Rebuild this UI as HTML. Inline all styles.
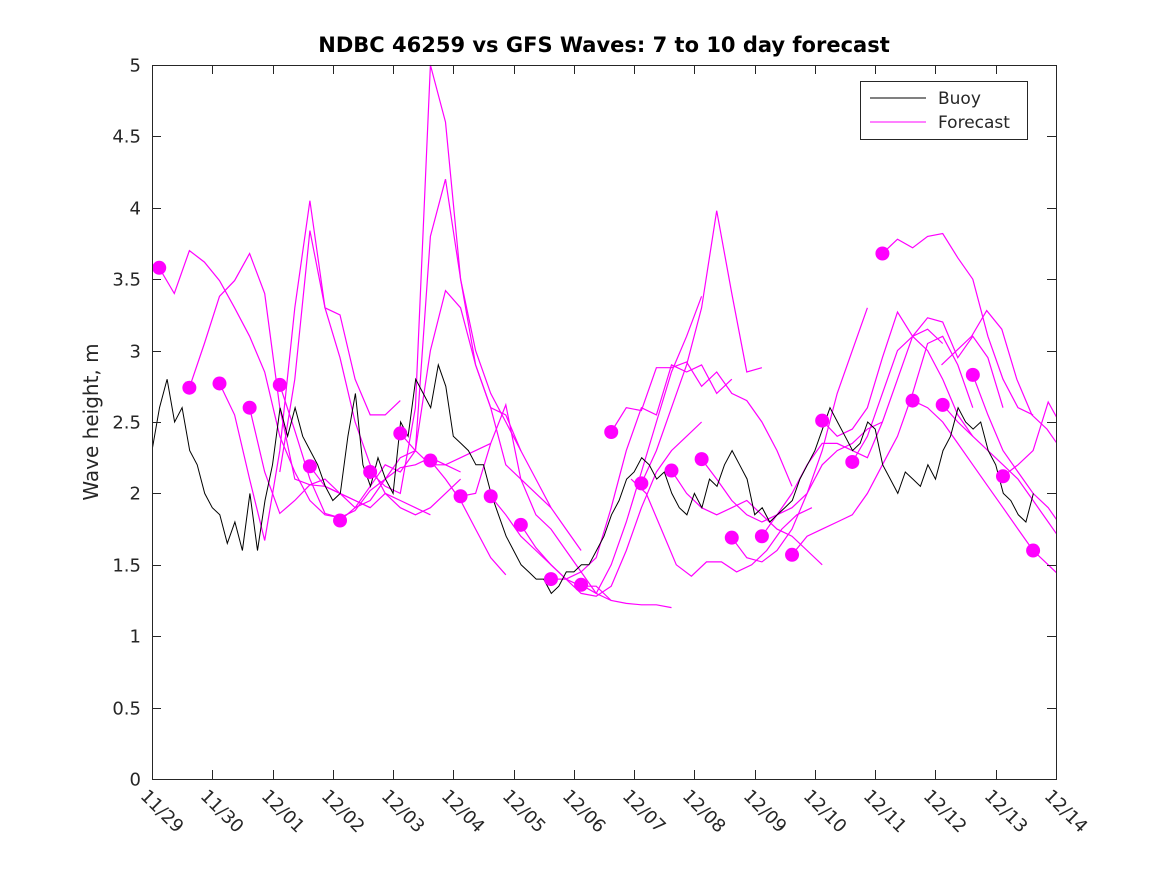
<!DOCTYPE html>
<html><head><meta charset="utf-8"><style>
body{margin:0;background:#fff;}
svg text{font-family:"DejaVu Sans","Liberation Sans",sans-serif;fill:#262626;}
</style></head><body>
<svg id="chart" width="1167" height="875" xmlns="http://www.w3.org/2000/svg">
<defs><clipPath id="pc"><rect x="152" y="60" width="904" height="720"/></clipPath></defs>
<rect width="1167" height="875" fill="#fff"/>
<text x="604" y="52" text-anchor="middle" font-size="21" font-weight="bold" style="fill:#000">NDBC 46259 vs GFS Waves: 7 to 10 day forecast</text>
<text transform="translate(98,422) rotate(-90)" text-anchor="middle" font-size="20">Wave height, m</text>
<g id="plot" clip-path="url(#pc)"></g>
<g id="axes"></g>
<g>
<rect x="860.5" y="81.5" width="167" height="58" fill="#fff" stroke="#262626" stroke-width="1"/>
<line x1="870" y1="98" x2="926" y2="98" stroke="#000" stroke-width="1"/>
<text x="938" y="104" font-size="17">Buoy</text>
<line x1="870" y1="122" x2="926" y2="122" stroke="#ff00ff" stroke-width="1"/>
<text x="938" y="128" font-size="17">Forecast</text>
</g>
</svg>
<script>
const xTickLabels=["11/29","11/30","12/01","12/02","12/03","12/04","12/05","12/06","12/07","12/08","12/09","12/10","12/11","12/12","12/13","12/14"];
const yTickValues=[0,0.5,1,1.5,2,2.5,3,3.5,4,4.5,5];
const yTickLabels=["0","0.5","1","1.5","2","2.5","3","3.5","4","4.5","5"];
// buoy: 3-hourly values from day 0 (11/29)
const buoyStep=0.125;
const buoyValues=[
2.3,2.6,2.8,2.5,2.6,2.3,2.2,2.0,
1.9,1.85,1.65,1.8,1.6,2.0,1.6,1.95,
2.2,2.6,2.4,2.6,2.4,2.3,2.2,2.05,
1.95,2.0,2.4,2.7,2.2,2.05,2.25,2.1,
2.0,2.5,2.4,2.8,2.7,2.6,2.9,2.75,
2.4,2.35,2.3,2.2,2.2,2.0,1.85,1.7,
1.6,1.5,1.45,1.4,1.4,1.3,1.35,1.45,
1.45,1.5,1.5,1.6,1.7,1.85,1.95,2.1,
2.15,2.25,2.2,2.1,2.15,2.0,1.9,1.85,
2.0,1.9,2.1,2.05,2.2,2.3,2.2,2.1,
1.85,1.9,1.8,1.85,1.9,1.95,2.1,2.2,
2.3,2.45,2.6,2.5,2.4,2.3,2.35,2.5,
2.45,2.2,2.1,2.0,2.15,2.1,2.05,2.2,
2.1,2.3,2.4,2.6,2.5,2.45,2.5,2.3,
2.2,2.0,1.95,1.85,1.8,2.0];
// forecast dots (day, value)
const dotDays=[0.12,0.62,1.12,1.62,2.12,2.62,3.12,3.62,4.12,4.62,5.12,5.62,6.12,6.62,7.12,7.62,8.12,8.62,9.12,9.62,10.12,10.62,11.12,11.62,12.12,12.62,13.12,13.62,14.12,14.62];
const dotValues=[3.58,2.74,2.77,2.60,2.76,2.19,1.81,2.15,2.42,2.23,1.98,1.98,1.78,1.40,1.36,2.43,2.07,2.16,2.24,1.69,1.70,1.57,2.51,2.22,3.68,2.65,2.62,2.83,2.12,1.60];
// forecast segments: start day, values every 0.25 day
const segStep=0.25;
const segStarts=[0.12,0.62,1.12,1.62,2.12,2.12,2.62,3.12,3.62,4.12,4.62,5.12,5.62,6.12,6.62,7.12,7.62,8.12,7.95,8.62,9.12,9.62,10.12,10.62,11.12,11.62,12.12,12.62,13.12,13.62,13.1,14.12];
const segValues=[
[3.58,3.40,3.70,3.62,3.49,3.30,3.10,2.85,2.40,2.15,1.95,1.85,1.83],
[2.74,3.05,3.38,3.49,3.68,3.40,2.60,2.10,2.06,2.05,2.00,1.95,1.90],
[2.77,2.55,2.10,1.67,2.30,3.30,4.05,3.30,3.25,2.80,2.55,2.55,2.65],
[2.60,2.15,1.86,1.95,2.06,2.10,2.00,1.95,1.90,2.00,1.95,1.90,1.85],
[2.76,2.44,2.10,1.86,1.83,1.88,2.02,2.10,2.18,2.20,2.25,2.20,2.15],
[2.15,2.80,3.84,3.30,2.95,2.50,2.20,2.00,1.90,1.85,1.90,2.00,2.10],
[2.19,2.05,2.00,1.90,1.95,2.10,2.25,2.30,2.20,2.20,2.25,2.30,2.35],
[1.81,1.90,2.05,2.20,2.15,2.30,3.00,3.42,3.30,2.90,2.60,2.55,2.30],
[2.15,2.05,2.00,2.60,5.00,4.60,3.50,2.90,2.60,2.20,2.10,2.00,1.90],
[2.42,2.30,3.80,4.20,3.50,3.00,2.70,2.50,2.30,2.10,1.90,1.75,1.60],
[2.23,2.10,1.95,1.75,1.55,1.43],
[1.98,2.00,2.35,2.62,2.10,1.85,1.75,1.60,1.45,1.30,1.25],
[1.98,1.85,1.70,1.60,1.50,1.40,1.35,1.35,1.25,1.23,1.22,1.22,1.20],
[1.78,1.62,1.50,1.40,1.30,1.28,1.35,1.60,1.90,2.15,2.30,2.40,2.50],
[1.40,1.40,1.45,1.55,1.90,2.30,2.60,2.55,2.90,2.85,2.90,2.70,2.80],
[1.36,1.30,1.50,1.80,2.15,2.50,2.85,3.10,3.38],
[2.43,2.60,2.58,2.88,2.88,2.92,2.75,2.85,2.70,2.65,2.50,2.30,2.05],
[2.07,2.30,2.60,2.90,3.30,3.98,3.40,2.85,2.88],
[2.10,2.00,1.75,1.50,1.42,1.52,1.52,1.45,1.50,1.60,1.75,1.85,1.90],
[2.16,2.00,1.90,1.85,1.90,1.95,1.85,1.75,1.70,1.60,1.50],
[2.24,2.10,1.95,1.85,1.80,1.85,1.90,2.00,2.20,2.30,2.35,2.45,2.50],
[1.69,1.55,1.52,1.60,1.75,2.00,2.30,2.70,3.00,3.30],
[1.70,1.85,2.00,2.20,2.35,2.35,2.30,2.25,2.50,2.80,3.10,3.15,3.05],
[1.57,1.70,1.75,1.80,1.85,2.00,2.20,2.40,2.70,3.05,3.10,2.90,2.60],
[2.51,2.40,2.45,2.60,2.95,3.27,3.10,3.23,3.20,2.95,3.10,2.95,2.60],
[2.22,2.40,2.70,3.00,3.10,3.00,2.80,2.55,2.40],
[3.68,3.78,3.72,3.80,3.82,3.65,3.50,3.10,2.80,2.60,2.55],
[2.65,2.60,2.50,2.35,2.20,2.05,1.90,1.75,1.60,1.50,1.40,1.33,1.31],
[2.62,2.50,2.40,2.30,2.20,2.10,1.95,1.80,1.65,1.50,1.38],
[2.83,2.55,2.30,2.15,2.00,1.90,1.75,1.60,1.45,1.35],
[2.90,3.00,3.10,3.28,3.15,2.80,2.55,2.45,2.30,2.10,1.95,1.80,1.77],
[2.12,2.20,2.30,2.64,2.45,2.20]];

const X0=152,X1=1056,Y0=779,Y1=65,DAYS=15,YMAX=5;
function xs(d){return X0+(X1-X0)*d/DAYS;}
function ys(v){return Y0-(Y0-Y1)*v/YMAX;}
const NS="http://www.w3.org/2000/svg";
const plot=document.getElementById('plot');
const axes=document.getElementById('axes');
function mk(tag,attrs,parent){const e=document.createElementNS(NS,tag);for(const k in attrs)e.setAttribute(k,attrs[k]);parent.appendChild(e);return e;}

segValues.forEach((vals,i)=>{
  const pts=vals.map((v,j)=>xs(segStarts[i]+j*segStep).toFixed(1)+','+ys(v).toFixed(1)).join(' ');
  const p=mk('polyline',{points:pts,fill:'none',stroke:'#ff00ff','stroke-width':1.2},plot);
  
  
});
{
  const pts=buoyValues.map((v,j)=>xs(j*buoyStep).toFixed(1)+','+ys(v).toFixed(1)).join(' ');
  const p=mk('polyline',{points:pts,fill:'none',stroke:'#000','stroke-width':1},plot);
  
  
}
dotDays.forEach((d,i)=>{
  const c=mk('circle',{cx:xs(d),cy:ys(dotValues[i]),r:7,fill:'#ff00ff'},plot);
  
  
});
{
  const r=mk('rect',{x:X0+0.5,y:Y1+0.5,width:X1-X0,height:Y0-Y1,fill:'none',stroke:'#262626','stroke-width':1},axes);
  
  
}
yTickValues.forEach((v,i)=>{
  const y=Math.round(ys(v))+0.5;
  const t1=mk('line',{x1:X0,y1:y,x2:X0+9,y2:y,stroke:'#262626'},axes);
  
  
  const t2=mk('line',{x1:X1-9,y1:y,x2:X1,y2:y,stroke:'#262626'},axes);
  
  
  const t=mk('text',{x:141,y:y+6,'text-anchor':'end','font-size':18},axes);
  t.textContent=yTickLabels[i];
  
  
});
xTickLabels.forEach((lab,i)=>{
  const x=Math.round(xs(i))+0.5;
  const t1=mk('line',{x1:x,y1:Y0,x2:x,y2:Y0-9,stroke:'#262626'},axes);
  
  
  const t2=mk('line',{x1:x,y1:Y1,x2:x,y2:Y1+9,stroke:'#262626'},axes);
  
  
  const t=mk('text',{transform:'translate('+(x-13)+',797) rotate(45)','font-size':18},axes);
  t.textContent=lab;
  
  
});
</script>
</body></html>
